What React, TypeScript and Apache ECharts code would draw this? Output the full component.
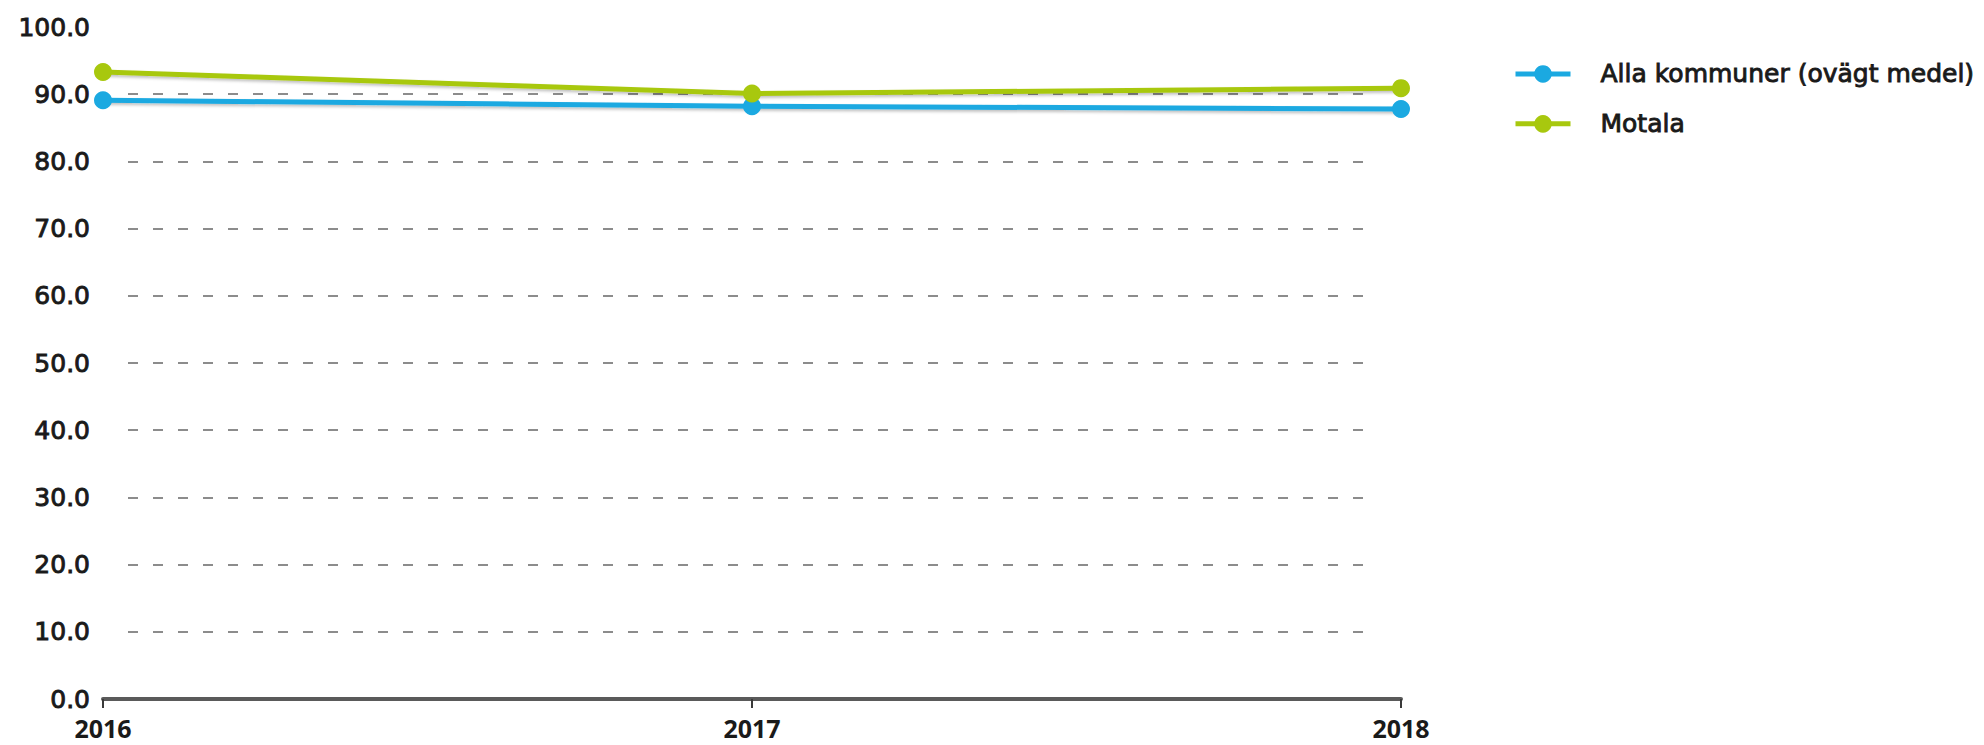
import React, { useEffect, useRef } from "react";
import * as echarts from "echarts";

const categories = ["2016", "2017", "2018"];
const allaKommuner = [89.1, 88.2, 87.8];
const motala = [93.3, 90.1, 90.9];
const seriesNames = ["Alla kommuner (ovägt medel)", "Motala"];
const colors = ["#1ba9e1", "#a8c80e"];

export default function App() {
  const ref = useRef<HTMLDivElement>(null);
  useEffect(() => {
    if (!ref.current) return;
    const chart = echarts.init(ref.current, undefined, { renderer: "svg" });
    const font = "DejaVu Sans";
    const textColor = "#1a1a1a";
    const heavy = { textBorderColor: textColor, textBorderWidth: 0.9 };
    const shadow = {
      shadowColor: "rgba(0,0,0,0.25)",
      shadowBlur: 3,
      shadowOffsetY: 2,
    };
    chart.setOption({
      animation: false,
      grid: [
        { left: 95, right: 575, top: 19, bottom: 46, containLabel: false },
        { left: 120, right: 599, top: 19, bottom: 46, containLabel: false },
      ],
      xAxis: [
        {
          type: "category",
          data: categories,
          boundaryGap: false,
          gridIndex: 0,
          axisLine: { show: true, lineStyle: { color: "#5a5a5a", width: 4 } },
          axisTick: { show: true, length: 9, lineStyle: { color: "#3a3a3a", width: 2 } },
          axisLabel: {
            margin: 16,
            color: textColor,
            fontFamily: "Open Sans",
            fontWeight: "bold",
            fontSize: 25,
          },
          splitLine: { show: false },
        },
        {
          type: "category",
          data: categories,
          boundaryGap: false,
          gridIndex: 1,
          show: false,
        },
      ],
      yAxis: [
        {
          type: "value",
          min: 0,
          max: 100,
          interval: 10,
          gridIndex: 0,
          axisLine: { show: false },
          axisTick: { show: false },
          axisLabel: {
            margin: 13,
            color: textColor,
            fontFamily: font,
            fontSize: 25,
            ...heavy,
            formatter: (v: number) => v.toFixed(1),
          },
          splitLine: { show: false },
        },
        {
          type: "value",
          min: 0,
          max: 100,
          interval: 10,
          gridIndex: 1,
          axisLine: { show: false },
          axisTick: { show: false },
          axisLabel: { show: false },
          splitLine: {
            show: true,
            showMinLine: false,
            showMaxLine: false,
            lineStyle: { color: "#8c8c8c", width: 2, type: [10, 15] },
          },
        },
      ],
      legend: {
        orient: "vertical",
        left: 1500,
        top: 48,
        itemWidth: 55,
        itemHeight: 22,
        itemGap: 24,
        lineStyle: { width: 5 },
        textStyle: {
          fontFamily: font,
          fontSize: 25,
          color: textColor,
          ...heavy,
          padding: [0, 0, 0, 25],
        },
        data: seriesNames,
      },
      series: [
        {
          name: seriesNames[0],
          type: "line",
          data: allaKommuner,
          xAxisIndex: 0,
          yAxisIndex: 0,
          color: colors[0],
          symbol: "circle",
          symbolSize: 18,
          lineStyle: { width: 5, color: colors[0], ...shadow },
          itemStyle: { color: colors[0] },
          z: 3,
        },
        {
          name: seriesNames[1],
          type: "line",
          data: motala,
          xAxisIndex: 0,
          yAxisIndex: 0,
          color: colors[1],
          symbol: "circle",
          symbolSize: 18,
          lineStyle: { width: 5, color: colors[1], ...shadow },
          itemStyle: { color: colors[1] },
          z: 4,
        },
      ],
    });
    return () => chart.dispose();
  }, []);
  return <div ref={ref} style={{ width: 1968, height: 737 }} />;
}
